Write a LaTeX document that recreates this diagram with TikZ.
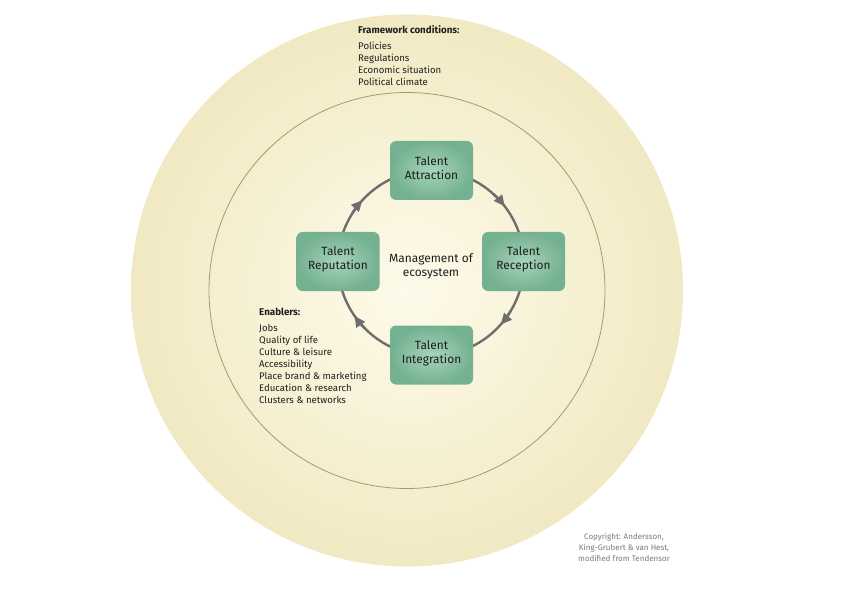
\documentclass[tikz,border=0pt]{standalone}
\usepackage{fontspec}
\setmainfont{Fira Sans}
\usetikzlibrary{arrows.meta,shadings}
\definecolor{ringtan}{HTML}{E9DEAC}
\definecolor{midtan}{HTML}{F4EDCB}
\definecolor{centercream}{HTML}{FDFAEA}
\definecolor{ringline}{HTML}{A39C66}
\definecolor{boxedge}{HTML}{74B191}
\definecolor{boxmid}{HTML}{A6D4B8}
\definecolor{arrowgray}{HTML}{6E6E6E}
\definecolor{txt}{HTML}{1E1E1E}
\definecolor{copygray}{HTML}{7A7A7A}
\pgfdeclareradialshading{discshade}{\pgfpoint{0bp}{0bp}}{%
  color(0bp)=(centercream); color(20bp)=(midtan); color(38bp)=(ringtan); color(50bp)=(ringtan)}
\tikzset{
  talentbox/.style={rounded corners=6pt, minimum width=83pt, minimum height=59pt,
    inner sep=0pt, shading=radial, inner color=boxmid, outer color=boxedge},
  boxlabel/.style={align=center, inner sep=0pt, font=\fontsize{11.9}{14}\selectfont, text=txt},
  headtext/.style={anchor=base west, inner sep=0pt, font=\fontsize{9.8}{12}\selectfont\bfseries, text=txt},
  listtext/.style={anchor=base west, inner sep=0pt, font=\fontsize{9.6}{12}\selectfont, text=txt},
  cycleline/.style={draw=arrowgray, line width=2.4pt},
  cyclehead/.style={draw=arrowgray, line width=2.4pt, -{Triangle[length=11pt,width=10pt]}}
}
\begin{document}
\begin{tikzpicture}[x=1pt,y=1pt]
\useasboundingbox (0,0) rectangle (842,595);
\fill[white] (0,0) rectangle (842,595);
% outer disc with radial gradient
\coordinate (oc) at (407,304.5);
\shade[shading=discshade] (oc) circle[radius=276];
% inner circle outline
\draw[ringline, line width=0.8pt] (oc) circle[radius=198];
% cycle
\coordinate (cc) at (431,332);
\draw[cycleline] (cc) circle[radius=93];
\draw[cyclehead] (cc) ++(48:93) arc[start angle=48, end angle=37.6, radius=93];
\draw[cyclehead] (cc) ++(-31:93) arc[start angle=-31, end angle=-41.4, radius=93];
\draw[cyclehead] (cc) ++(-135:93) arc[start angle=-135, end angle=-145.4, radius=93];
\draw[cyclehead] (cc) ++(148:93) arc[start angle=148, end angle=137.6, radius=93];
% boxes
\node[talentbox] (attr) at (431.5,424.5) {};
\node[talentbox] (recp) at (523.5,333.5) {};
\node[talentbox] (integ) at (431.5,240) {};
\node[talentbox] (reput) at (338,333.5) {};
\node[boxlabel] (attrl) at ([yshift=2pt]attr.center) {Talent\\Attraction};
\node[boxlabel] (recpl) at ([yshift=2pt]recp.center) {Talent\\Reception};
\node[boxlabel] (integl) at ([yshift=2pt]integ.center) {Talent\\Integration};
\node[boxlabel] (reputl) at ([yshift=2pt]reput.center) {Talent\\Reputation};
\node[boxlabel] (mgmt) at (431,329) {Management of\\ecosystem};
% framework conditions
\node[headtext] (fwh) at (358,561) {Framework conditions:};
\node[listtext] (fw1) at (358,545) {Policies};
\node[listtext] (fw2) at (358,533) {Regulations};
\node[listtext] (fw3) at (358,521) {Economic situation};
\node[listtext] (fw4) at (358,509) {Political climate};
% enablers
\node[headtext] (enh) at (259,280) {Enablers:};
\node[listtext] (en1) at (259,264) {Jobs};
\node[listtext] (en2) at (259,252) {Quality of life};
\node[listtext] (en3) at (259,240) {Culture \& leisure};
\node[listtext] (en4) at (259,228) {Accessibility};
\node[listtext] (en5) at (259,216) {Place brand \& marketing};
\node[listtext] (en6) at (259,204) {Education \& research};
\node[listtext] (en7) at (259,192) {Clusters \& networks};
% copyright
\node[anchor=base, inner sep=0pt, align=center, font=\fontsize{8}{11}\selectfont, text=copygray] (copy) at (624,34) {Copyright: Andersson,\\King-Grubert \& van Hest,\\modified from Tendensor};
\end{tikzpicture}
\end{document}
